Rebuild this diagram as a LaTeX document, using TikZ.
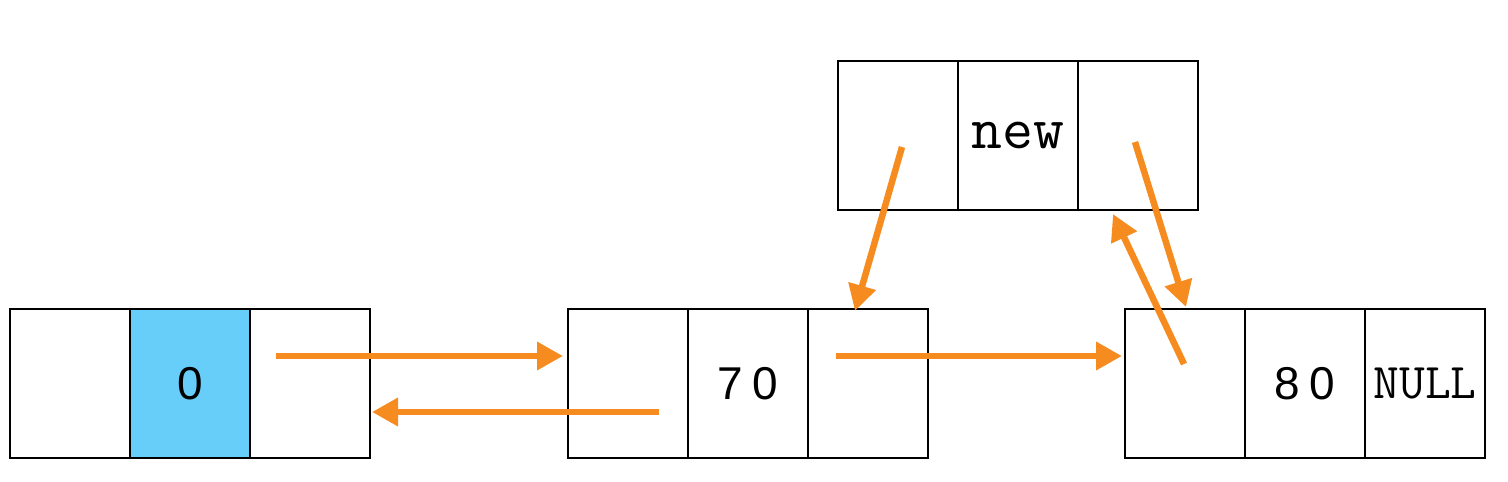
\documentclass[tikz,border=0pt]{standalone}
\usepackage{fontspec}
\setmainfont{Liberation Sans}
\usetikzlibrary{arrows.meta}
\definecolor{cellblue}{HTML}{66CEF8}
\definecolor{arrorange}{HTML}{F68B1F}
\tikzset{
  cellbox/.style={draw=black, line width=2.8pt, minimum width=120pt, minimum height=149pt, inner sep=0pt, anchor=center},
  numtxt/.style={font=\fontsize{46}{46}\selectfont},
  montxt/.style={font=\ttfamily\fontsize{60}{60}\selectfont},
  nulltxt/.style={font=\ttfamily\fontsize{50}{50}\selectfont},
  link/.style={draw=arrorange, line width=6.5pt, -{Triangle[length=26pt,width=27pt]}}
}
\begin{document}
\begin{tikzpicture}[x=1pt,y=-1pt]
\useasboundingbox[fill=white] (0,0) rectangle (1508,482);
% list node A
\node[cellbox] (a1) at (70,383.5) {};
\node[cellbox, fill=cellblue, numtxt] (a2) at (190,383.5) {0};
\node[cellbox] (a3) at (310,383.5) {};
% list node B
\node[cellbox] (b1) at (628,383.5) {};
\node[cellbox, numtxt] (b2) at (748,383.5) {7\kern9pt0};
\node[cellbox] (b3) at (868,383.5) {};
% list node C
\node[cellbox] (c1) at (1185,383.5) {};
\node[cellbox, numtxt] (c2) at (1305,383.5) {8\kern9pt0};
\node[cellbox, nulltxt] (c3) at (1425,383.5) {NULL};
% new node
\node[cellbox] (n1) at (898,135.5) {};
\node[cellbox, montxt] (n2) at (1018,135.5) {new};
\node[cellbox] (n3) at (1138,135.5) {};
% arrow end points
\coordinate (a3s) at (276,356);
\coordinate (b1e) at (563,356);
\coordinate (b1s) at (659,412);
\coordinate (a3e) at (372,412);
\coordinate (b3s) at (836,356);
\coordinate (c1e) at (1122,356);
\coordinate (n1s) at (902,147);
\coordinate (b3e) at (855,311);
\coordinate (n3s) at (1135,142);
\coordinate (c1t) at (1186,307);
\coordinate (c1s) at (1184,364);
\coordinate (n3e) at (1113,214);
\draw[link] (a3s) -- (b1e);
\draw[link] (b1s) -- (a3e);
\draw[link] (b3s) -- (c1e);
\draw[link] (n1s) -- (b3e);
\draw[link] (n3s) -- (c1t);
\draw[link] (c1s) -- (n3e);
\end{tikzpicture}
\end{document}
